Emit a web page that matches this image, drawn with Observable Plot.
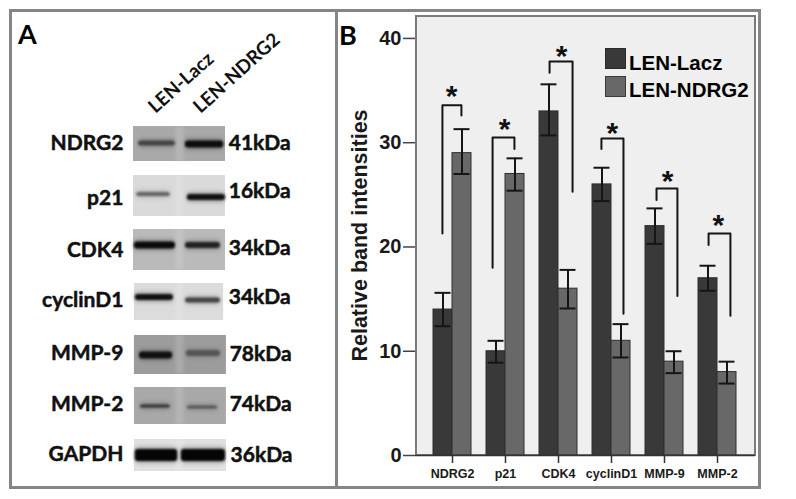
<!DOCTYPE html>
<html><head><meta charset="utf-8">
<script src="https://cdn.jsdelivr.net/npm/d3@7"></script>
<script src="https://cdn.jsdelivr.net/npm/@observablehq/plot@0.6"></script>
<style>
html,body{margin:0;padding:0;background:#fff;}
#root{position:relative;width:796px;height:499px;overflow:hidden;}
#root svg{position:absolute;top:0;background:transparent;max-width:none;}
#root svg.arial text{font-family:"Liberation Sans",Arial,sans-serif !important;font-weight:bold !important;}
.box{position:absolute;box-sizing:border-box;}
.lab{position:absolute;white-space:nowrap;font-weight:bold;color:#000;}
</style></head><body><div id="root"></div>
<script>
// ---- Panel A: western blot ----
const proteins = ["NDRG2","p21","CDK4","cyclinD1","MMP-9","MMP-2","GAPDH"];
const kDa = ["41kDa","16kDa","34kDa","34kDa","78kDa","74kDa","36kDa"];
const lanes = ["LEN-Lacz","LEN-NDRG2"];
const nameOffset = [0,3,3,1,2,1,-1];
const kDaOffset = [0,-4,1,-2,3,1,0];
const kDaStart = [1.07,1.07,1.07,1.07,1.09,1.09,1.11];
const blotTop = [-17,-20,-18,-16,-16,-16,-16];
const blotBottom = [18,21,23,21,23,21,16];
const blotLeft = [-1,-1,-1,-0.98,-0.98,-0.98,-0.98];
const blotRight = [1,1,1,0.96,1.02,1.02,1.02];
const blotShade = ["#a9a9a9","#dadada","#bababa","#dcdcdc","#9c9c9c","#a8a8a8","#e0e0e0"];
const bandL = {y:[0,-1,-2,-2,4,3,0], th:[5,4,7,6,7,3,12], x1:[-.89,-.93,-.98,-.96,-.87,-.85,-.96], x2:[-.09,-.2,-.09,-.13,-.15,-.2,-.04], shade:["#444","#666","#0a0a0a","#111","#111","#333","#050505"]};
const bandR = {y:[1,2,-2,1,2,4,0], th:[7,6,6,5,6,3,12], x1:[.13,.17,.13,.13,.15,.17,.04], x2:[.96,1,.89,.89,.89,.83,1], shade:["#0d0d0d","#111","#222","#444","#555","#555","#050505"]};

// ---- Panel B: bar chart ----
const categories = ["NDRG2","p21","CDK4","cyclinD1","MMP-9","MMP-2"];
const lacz = [14,10,33,26,22,17];
const laczHigh = [15.6,11,35.6,27.6,23.7,18.2];
const laczLow = [12.4,8.9,30.7,24.4,20.3,15.8];
const ndrg2 = [29,27,16,11,9,8];
const ndrg2High = [31.3,28.5,17.8,12.6,10,9];
const ndrg2Low = [27,25.4,14.1,9.4,7.9,6.9];
const bracketTop = [33.6,30.5,37.8,30.4,25.6,21.3];
const bracketLeftEnd = [21.3,18,36.7,29.4,24.5,20.2];
const bracketRightEnd = [32.6,29.4,25.3,13.6,15.3,13.4];
const bracketLeftX = [-.53,-.68,-.47,-.53,-.42,-.47];
const bracketRightX = [.47,.47,.74,.63,.68,.68];
const starX = [-.05,-.05,.16,.05,.16,.05];
const starY = [34.7,31.6,38.6,31.2,26.6,22.4];

const root = document.getElementById("root");
function box(l,t,w,h,css){const d=document.createElement("div");d.className="box";d.style.cssText=`left:${l}px;top:${t}px;width:${w}px;height:${h}px;${css}`;root.appendChild(d);}
function lab(txt,l,t,size,font){const d=document.createElement("div");d.className="lab";d.textContent=txt;d.style.cssText=`left:${l}px;top:${t}px;font-size:${size}px;line-height:${size}px;font-family:${font};`;root.appendChild(d);}

box(9,9,752,480,"border:3px solid #858585;");
box(335,10,3,478,"background:#858585;");
box(415,15,341,441,"background:#efefef;border:2px solid #7a7a7a;");

// Panel A
const idx = proteins.map((_,i)=>i);
const blotRows = idx.map(i=>({p:proteins[i],x1:blotLeft[i],x2:blotRight[i],y1:blotTop[i],y2:blotBottom[i],c:blotShade[i]}));
const laneGap = idx.map(i=>({p:proteins[i],x1:-.08,x2:.1,y1:blotTop[i],y2:blotBottom[i]}));
const bands = idx.flatMap(i=>[bandL,bandR].map(b=>({p:proteins[i],x1:b.x1[i],x2:b.x2[i],y:b.y[i],th:b.th[i],c:b.shade[i]})));
const FA = "Lato, 'Noto Sans', sans-serif";
const heavy = {fontFamily:FA,fontWeight:"bold",fill:"#111",stroke:"#111",strokeWidth:.5};
const panelA = Plot.plot({
  width:340,height:499,marginTop:116,marginBottom:17,marginLeft:133,marginRight:115,
  x:{domain:[-1,1],axis:null},y:{domain:[-26,26],axis:null,reverse:true},
  fy:{domain:proteins,axis:null,padding:0},
  style:{background:"transparent",overflow:"visible"},
  marks:[
    Plot.rect(blotRows,{fy:"p",x1:"x1",x2:"x2",y1:"y1",y2:"y2",fill:"c",imageFilter:"blur(0.5px)"}),
    Plot.rect(laneGap,{fy:"p",x1:"x1",x2:"x2",y1:"y1",y2:"y2",fill:"#fff",fillOpacity:.14,imageFilter:"blur(1.5px)"}),
    Plot.rect(bands,{fy:"p",x1:"x1",x2:"x2",y1:d=>d.y-d.th/2-2,y2:d=>d.y+d.th/2+2,fill:"c",fillOpacity:.28,rx:4,imageFilter:"blur(2px)"}),
    Plot.rect(bands,{fy:"p",x1:"x1",x2:"x2",y1:d=>d.y-d.th/2,y2:d=>d.y+d.th/2,fill:"c",rx:3,imageFilter:"blur(1px)"}),
    Plot.text(idx,{fy:i=>proteins[i],x:()=>-1.22,y:i=>nameOffset[i],text:i=>proteins[i],textAnchor:"end",fontSize:21,...heavy}),
    Plot.text(idx,{fy:i=>proteins[i],x:i=>kDaStart[i],y:i=>kDaOffset[i],text:i=>kDa[i],textAnchor:"start",fontSize:21,...heavy}),
    Plot.text(lanes,{fy:()=>"NDRG2",x:(d,i)=>[-.61,.37][i],y:()=>-34,text:d=>d,textAnchor:"start",rotate:-42,fontFamily:FA,fontWeight:"bold",fontSize:19,fill:"#111"})
  ]
});
panelA.style.left="0px";
root.appendChild(panelA);

// Panel B
const barRows = categories.flatMap((c,i)=>[
  {c,x1:-1,x2:0,v:lacz[i],hi:laczHigh[i],lo:laczLow[i],mid:-.5,f:"#393939"},
  {c,x1:0,x2:1,v:ndrg2[i],hi:ndrg2High[i],lo:ndrg2Low[i],mid:.5,f:"#686868"}
]);
const brackets = categories.flatMap((c,i)=>[
  {c,x:bracketLeftX[i],y:bracketLeftEnd[i]},
  {c,x:bracketLeftX[i],y:bracketTop[i]},
  {c,x:bracketRightX[i],y:bracketTop[i]},
  {c,x:bracketRightX[i],y:bracketRightEnd[i]}
]);
const stars = categories.map((c,i)=>({c,x:starX[i],y:starY[i]}));
const FB = "'Liberation Sans', Arial, sans-serif";
const ink = "#151515";
const yDomain = [0,42.2];
const panelB = Plot.plot({
  width:456,height:499,marginLeft:75,marginRight:41,marginTop:15,marginBottom:44,
  x:{domain:[-1,1],axis:null},
  y:{domain:yDomain,axis:null},
  fx:{domain:categories,axis:null,paddingInner:0.283,paddingOuter:0.349,align:0.5},
  style:{background:"transparent",overflow:"visible"},
  marks:[
    Plot.rectY(barRows,{fx:"c",x1:"x1",x2:"x2",y:"v",fill:"f",stroke:"#2e2e2e",strokeWidth:1}),
    Plot.ruleX(barRows,{fx:"c",x:"mid",y1:"lo",y2:"hi",stroke:ink,strokeWidth:2}),
    Plot.ruleY(barRows,{fx:"c",y:"hi",x1:d=>d.mid-.42,x2:d=>d.mid+.42,stroke:ink,strokeWidth:2}),
    Plot.ruleY(barRows,{fx:"c",y:"lo",x1:d=>d.mid-.42,x2:d=>d.mid+.42,stroke:ink,strokeWidth:2}),
    Plot.line(brackets,{fx:"c",z:"c",x:"x",y:"y",stroke:ink,strokeWidth:2,curve:"linear"}),
    Plot.text(stars,{fx:"c",x:"x",y:"y",text:()=>"*",fontSize:30,fontWeight:"bold",fontFamily:FB,fill:"#111",dy:3}),
    Plot.axisFx({anchor:"bottom",label:null,tickSize:8,tickPadding:6,fontSize:12.5,fontWeight:"bold",fontFamily:FB,fill:"#1a1a1a",stroke:"#333",strokeWidth:1.5})
  ]
});
panelB.classList.add("arial");
panelB.style.left="340px";
root.appendChild(panelB);

// Y axis of panel B, on the same value scale, anchored to the plot frame
const axisB = Plot.plot({
  width:456,height:499,marginLeft:75,marginRight:41,marginTop:15,marginBottom:44,
  x:{domain:[0,1],axis:null},
  y:{domain:yDomain,axis:null},
  style:{background:"transparent",overflow:"visible"},
  marks:[
    Plot.ruleY([0],{stroke:"#333",strokeWidth:1.5}),
    Plot.axisY({ticks:[0,10,20,30,40],tickSize:12,tickPadding:2,fontSize:20,fill:"#1a1a1a",stroke:"#444",strokeWidth:1.5,label:null}),
    Plot.axisY({ticks:[],tickSize:0,label:"Relative band intensities",labelAnchor:"center",labelArrow:"none",labelOffset:64,fontSize:21.5,fill:"#1a1a1a"})
  ]
});
axisB.classList.add("arial");
axisB.style.left="340px";
root.appendChild(axisB);

// Legend and panel letters
box(605,48,21,21,"background:#393939;border:1px solid #2a2a2a;");
box(605,76,21,21,"background:#686868;border:1px solid #3a3a3a;");
lab("LEN-Lacz",629,53,20.5,FB);
lab("LEN-NDRG2",629,80,20.5,FB);
lab("A",18,20,27,FA);
lab("B",339,21,27,FA);
</script></body></html>
